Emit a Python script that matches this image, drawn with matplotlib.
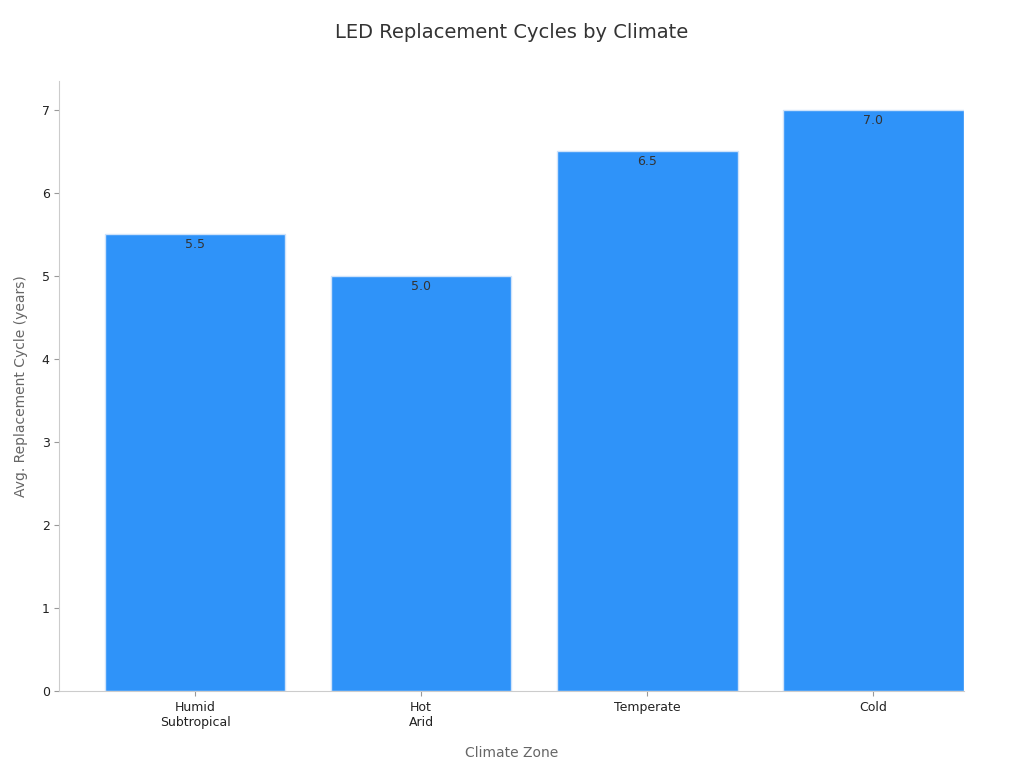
import matplotlib.pyplot as plt

categories = ['Humid\nSubtropical', 'Hot\nArid', 'Temperate', 'Cold']
cycles = [5.5, 5.0, 6.5, 7.0]
yticks = [0, 1, 2, 3, 4, 5, 6, 7]

fig = plt.figure(figsize=(10.24, 7.68), dpi=100)
ax = fig.add_axes([0.058, 0.1, 0.883, 0.795])
bars = ax.bar(range(len(categories)), cycles, width=0.8, color='#2f93f9',
              edgecolor='#cfe3fa', linewidth=1)
for b, v in zip(bars, cycles):
    ax.text(b.get_x() + b.get_width() / 2, v - 0.05, f'{v:.1f}',
            ha='center', va='top', fontsize=9, color='#333333')

ax.set_xlim(-0.6, 3.4)
ax.set_ylim(0, 7.35)
ax.set_yticks(yticks)
ax.set_xticks(range(len(categories)))
ax.set_xticklabels(categories, fontsize=9, color='#222222')
ax.tick_params(axis='y', labelsize=9, colors='#222222')
ax.tick_params(axis='both', color='#999999')
for s in ['top', 'right']:
    ax.spines[s].set_visible(False)
for s in ['left', 'bottom']:
    ax.spines[s].set_color('#cccccc')
ax.set_xlabel('Climate Zone', fontsize=10, color='#666666', labelpad=12)
ax.set_ylabel('Avg. Replacement Cycle (years)', fontsize=10, color='#666666', labelpad=10)
fig.suptitle('LED Replacement Cycles by Climate', fontsize=14, color='#333333', y=0.97)

fig.savefig('out.png', dpi=100)
